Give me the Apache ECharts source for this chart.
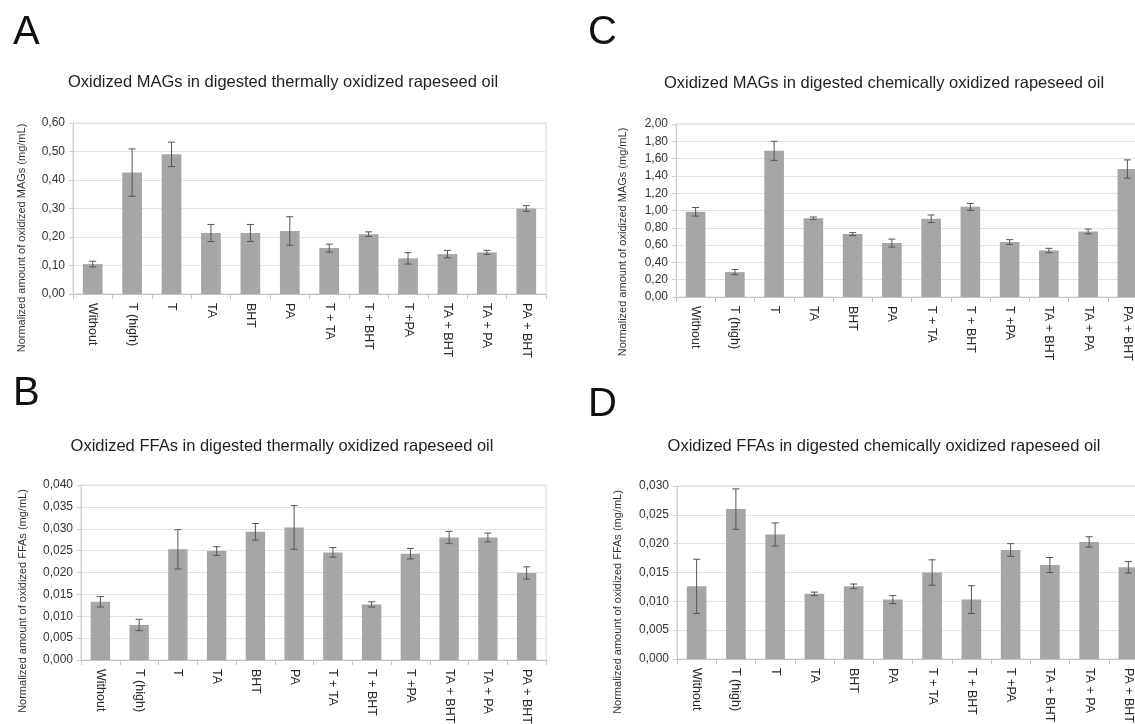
<!DOCTYPE html>
<html>
<head>
<meta charset="utf-8">
<script src="https://cdn.jsdelivr.net/npm/echarts@6/dist/echarts.min.js"></script>
<style>
html,body{margin:0;padding:0;background:#fff;}
#main{width:1135px;height:724px;}
</style>
</head>
<body>
<div id="main"></div>
<script>
const categories = ['Without','T (high)','T','TA','BHT','PA','T + TA','T + BHT','T +PA','TA + BHT','TA + PA','PA + BHT'];

// A: oxidized MAGs, thermally oxidized oil (mg/mL)
const magsThermal    = [0.105,0.426,0.490,0.214,0.214,0.221,0.161,0.210,0.125,0.140,0.146,0.300];
const magsThermalErr = [0.010,0.083,0.043,0.030,0.030,0.050,0.014,0.008,0.020,0.013,0.007,0.010];
// C: oxidized MAGs, chemically oxidized oil
const magsChemical    = [0.985,0.288,1.690,0.910,0.727,0.623,0.904,1.042,0.635,0.538,0.758,1.480];
const magsChemicalErr = [0.050,0.030,0.110,0.015,0.017,0.046,0.044,0.040,0.028,0.025,0.028,0.105];
// B: oxidized FFAs, thermally oxidized oil
const ffasThermal    = [0.0133,0.0080,0.0253,0.0249,0.0293,0.0303,0.0246,0.0127,0.0243,0.0280,0.0280,0.0199];
const ffasThermalErr = [0.0012,0.0013,0.0045,0.0010,0.0019,0.0050,0.0011,0.0006,0.0012,0.0014,0.0010,0.0014];
// D: oxidized FFAs, chemically oxidized oil
const ffasChemical    = [0.0126,0.0260,0.0216,0.0113,0.0126,0.0103,0.0150,0.0103,0.0189,0.0163,0.0203,0.0159];
const ffasChemicalErr = [0.0047,0.0035,0.0020,0.0003,0.0004,0.0007,0.0022,0.0024,0.0011,0.0013,0.0009,0.0010];

const titles = [
  'Oxidized MAGs in digested thermally oxidized rapeseed oil',
  'Oxidized MAGs in digested chemically oxidized rapeseed oil',
  'Oxidized FFAs in digested thermally oxidized rapeseed oil',
  'Oxidized FFAs in digested chemically oxidized rapeseed oil'
];
const yNames = [
  'Normalized amount of oxidized MAGs (mg/mL)',
  'Normalized amount of oxidized MAGs (mg/mL)',
  'Normalized amount of oxidized FFAs (mg/mL)',
  'Normalized amount of oxidized FFAs (mg/mL)'
];
const panelLetters = ['A','C','B','D'];

const FONT = '"Liberation Sans", Arial, Helvetica, sans-serif';

const panels = [
  {vals: magsThermal, errs: magsThermalErr, max: 0.6, interval: 0.1, dec: 2,
   grid: {left: 73, width: 473, top: 123, height: 171},
   title: [283, 82], letter: [13, 33], yname: [22, 238]},
  {vals: magsChemical, errs: magsChemicalErr, max: 2.0, interval: 0.2, dec: 2,
   grid: {left: 676, width: 471, top: 124, height: 173},
   title: [884, 83], letter: [588, 33], yname: [623, 242]},
  {vals: ffasThermal, errs: ffasThermalErr, max: 0.04, interval: 0.005, dec: 3,
   grid: {left: 81, width: 465, top: 485, height: 175},
   title: [282, 446], letter: [13, 394], yname: [23, 601]},
  {vals: ffasChemical, errs: ffasChemicalErr, max: 0.03, interval: 0.005, dec: 3,
   grid: {left: 677, width: 471, top: 486, height: 173},
   title: [884, 446], letter: [588, 405], yname: [618, 602]}
];

const grid = [], xAxis = [], yAxis = [], series = [], graphic = [];

panels.forEach((p, i) => {
  grid.push(Object.assign({show: true, borderColor: '#d9d9d9', borderWidth: 1, backgroundColor: 'transparent',
    containLabel: false, outerBoundsMode: 'none'}, p.grid));
  xAxis.push({
    type: 'category', gridIndex: i, data: categories, boundaryGap: true,
    axisLine: {lineStyle: {color: '#c4c4c4', width: 1}},
    axisTick: {show: true, length: 5, lineStyle: {color: '#c4c4c4'}},
    axisLabel: {interval: 0, rotate: -90, margin: 9, color: '#2b2b2b', fontSize: 12.5, fontFamily: FONT}
  });
  yAxis.push({
    type: 'value', gridIndex: i, min: 0, max: p.max, interval: p.interval,
    axisLine: {show: true, lineStyle: {color: '#cfcfcf'}},
    axisTick: {show: true, length: 4, lineStyle: {color: '#cfcfcf'}},
    splitLine: {show: true, lineStyle: {color: '#e2e2e2', width: 1}},
    axisLabel: {margin: 8, color: '#333', fontSize: 12, fontFamily: FONT,
      formatter: v => v.toFixed(p.dec).replace('.', ',')}
  });
  series.push({
    type: 'bar', xAxisIndex: i, yAxisIndex: i, data: p.vals, barWidth: '50%',
    itemStyle: {color: '#a6a6a6'}, silent: true, animation: false
  });
  const errData = p.vals.map((v, k) => [k, v - p.errs[k], v + p.errs[k]]);
  series.push({
    type: 'custom', xAxisIndex: i, yAxisIndex: i, data: errData, silent: true, animation: false,
    encode: {x: 0, y: [1, 2]}, z: 10,
    renderItem: function (params, api) {
      const lo = api.coord([api.value(0), api.value(1)]);
      const hi = api.coord([api.value(0), api.value(2)]);
      const hw = 3.5;
      const st = {stroke: '#555', lineWidth: 1, fill: null};
      return {type: 'group', children: [
        {type: 'line', shape: {x1: lo[0], y1: lo[1], x2: hi[0], y2: hi[1]}, style: st},
        {type: 'line', shape: {x1: lo[0] - hw, y1: lo[1], x2: lo[0] + hw, y2: lo[1]}, style: st},
        {type: 'line', shape: {x1: hi[0] - hw, y1: hi[1], x2: hi[0] + hw, y2: hi[1]}, style: st}
      ]};
    }
  });
  graphic.push({type: 'text', x: p.title[0], y: p.title[1],
    style: {text: titles[i], font: '16.5px ' + FONT, fill: '#1e1e1e', align: 'center', verticalAlign: 'middle'}});
  graphic.push({type: 'text', x: p.letter[0], y: p.letter[1],
    style: {text: panelLetters[i], font: '40px ' + FONT, fill: '#111', align: 'left', verticalAlign: 'middle'}});
  graphic.push({type: 'text', x: p.yname[0], y: p.yname[1], rotation: Math.PI / 2,
    style: {text: yNames[i], font: '11px ' + FONT, fill: '#333', align: 'center', verticalAlign: 'middle'}});
});

const chart = echarts.init(document.getElementById('main'), null, {renderer: 'canvas'});
chart.setOption({animation: false, backgroundColor: '#fff', grid, xAxis, yAxis, series, graphic});
</script>
</body>
</html>
